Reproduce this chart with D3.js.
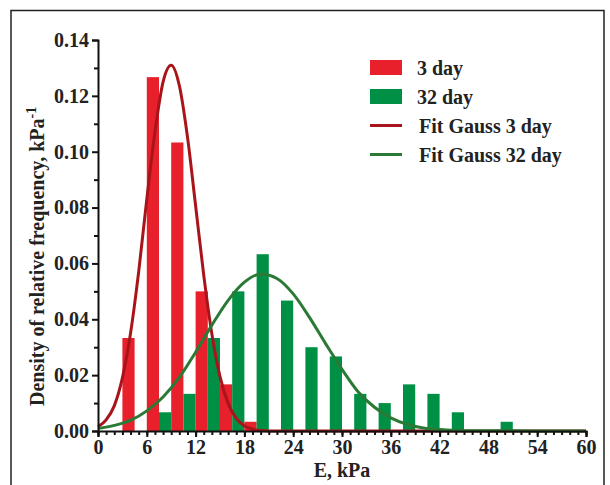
<!DOCTYPE html>
<html>
<head>
<meta charset="utf-8">
<script src="https://cdn.jsdelivr.net/npm/d3@7"></script>
<style>
  body { margin: 0; background: #fff; }
  text { font-family: "Liberation Serif", "Times New Roman", serif; font-weight: bold; fill: #222; }
</style>
</head>
<body>
<div id="chart"></div>
<script>
// histogram bins (left edge, kPa), bin width 3
var binStarts = [3, 6, 9, 12, 15, 18, 21, 24, 27, 30, 33, 36, 39, 42, 45, 48];
var day3 = [0.0333, 0.1267, 0.1033, 0.05, 0.0167, 0.0033, 0, 0, 0, 0, 0, 0, 0, 0, 0, 0];
var day32 = [0, 0.0067, 0.0133, 0.0333, 0.05, 0.0633, 0.0467, 0.03, 0.0267, 0.0133, 0.01, 0.0167, 0.0133, 0.0067, 0, 0.0033];

// fitted curves
var fit3X = [0, 1, 2, 3, 4, 5, 6, 7, 8, 9, 10, 11, 12, 13, 14, 15, 16, 17, 18, 19, 20, 22, 60];
var fit3Y = [0.0015, 0.004, 0.009, 0.019, 0.035, 0.057, 0.083, 0.107, 0.125, 0.131, 0.1237, 0.1053, 0.0807, 0.0558, 0.0347, 0.0195, 0.0099, 0.0045, 0.0018, 0.0007, 0.0002, 0, 0];
var fit32X = [0, 2, 4, 6, 8, 10, 12, 14, 16, 18, 20, 22, 24, 26, 28, 30, 32, 34, 36, 38, 40, 42, 44, 46, 60];
var fit32Y = [0.0009, 0.002, 0.0038, 0.0072, 0.0122, 0.0192, 0.0282, 0.0379, 0.0468, 0.0533, 0.0562, 0.0546, 0.0491, 0.0407, 0.0312, 0.0221, 0.0140, 0.0085, 0.0047, 0.0024, 0.0011, 0.0005, 0.0002, 0.0001, 0];

var xTicks = [0, 6, 12, 18, 24, 30, 36, 42, 48, 54, 60];
var yTicks = [0, 0.02, 0.04, 0.06, 0.08, 0.10, 0.12, 0.14];

var legendItems = [
  {label: "3 day", kind: "bar", color: "#e8202c"},
  {label: "32 day", kind: "bar", color: "#009045"},
  {label: "Fit Gauss 3 day", kind: "line", color: "#a8141a"},
  {label: "Fit Gauss 32 day", kind: "line", color: "#2a7a36"}
];

var svg = d3.select("#chart").append("svg")
    .attr("width", 610)
    .attr("height", 485);

// outer frame
svg.append("path")
    .attr("d", "M11,485 V10.5 H604 V485")
    .attr("fill", "none")
    .attr("stroke", "#222")
    .attr("stroke-width", 1.5);

var x = d3.scaleLinear().domain([0, 60]).range([98, 586]);
var y = d3.scaleLinear().domain([0, 0.14]).range([431, 40]);

var g = svg.append("g");

// bars: 3 day in the left half of each bin, 32 day in the right half
binStarts.forEach(function(b, i) {
  if (day3[i] > 0) {
    g.append("rect")
      .attr("x", x(b))
      .attr("y", y(day3[i]))
      .attr("width", x(b + 1.5) - x(b))
      .attr("height", y(0) - y(day3[i]))
      .attr("fill", legendItems[0].color);
  }
  if (day32[i] > 0) {
    g.append("rect")
      .attr("x", x(b + 1.5))
      .attr("y", y(day32[i]))
      .attr("width", x(b + 3) - x(b + 1.5))
      .attr("height", y(0) - y(day32[i]))
      .attr("fill", legendItems[1].color);
  }
});

var line = d3.line()
    .curve(d3.curveMonotoneX)
    .x(function(d) { return x(d[0]); })
    .y(function(d) { return y(d[1]); });

g.append("path")
    .attr("d", line(fit3X.map(function(v, i) { return [v, fit3Y[i]]; })))
    .attr("fill", "none")
    .attr("stroke", legendItems[2].color)
    .attr("stroke-width", 3);

g.append("path")
    .attr("d", line(fit32X.map(function(v, i) { return [v, fit32Y[i]]; })))
    .attr("fill", "none")
    .attr("stroke", legendItems[3].color)
    .attr("stroke-width", 3);

// x axis
svg.append("g")
    .attr("transform", "translate(0," + y(0) + ")")
    .call(d3.axisBottom(x).tickValues(xTicks).tickSize(6).tickPadding(3).tickFormat(d3.format("d")));
var xMinor = svg.append("g")
    .attr("transform", "translate(0," + y(0) + ")")
    .call(d3.axisBottom(x).tickValues(d3.range(0, 61, 1)).tickSize(4).tickFormat(""));
xMinor.select(".domain").remove();

// y axis
svg.append("g")
    .attr("transform", "translate(" + x(0) + ",0)")
    .call(d3.axisLeft(y).tickValues(yTicks).tickSize(6).tickPadding(3).tickFormat(d3.format(".2f")));
var yMinor = svg.append("g")
    .attr("transform", "translate(" + x(0) + ",0)")
    .call(d3.axisLeft(y).tickValues(d3.range(0.01, 0.14, 0.02)).tickSize(4).tickFormat(""));
yMinor.select(".domain").remove();

svg.selectAll(".domain").attr("stroke", "#111").attr("stroke-width", 2);
svg.selectAll(".tick line").attr("stroke", "#111").attr("stroke-width", 2);
svg.selectAll(".tick text")
    .style("font-family", "'Liberation Serif', serif")
    .style("font-weight", "bold")
    .style("font-size", "20px")
    .attr("fill", "#222");

// axis titles
svg.append("text")
    .attr("x", 342)
    .attr("y", 477)
    .attr("text-anchor", "middle")
    .style("font-size", "20px")
    .text("E, kPa");

var yt = svg.append("text")
    .attr("transform", "translate(44,406) rotate(-90)")
    .attr("text-anchor", "start")
    .style("font-size", "20px");
yt.append("tspan").text("Density of relative frequency, kPa");
yt.append("tspan").attr("dy", -8).style("font-size", "14px").text("-1");

// legend
var legend = svg.append("g").attr("transform", "translate(370,60)");
legendItems.forEach(function(d, i) {
  var row = legend.append("g").attr("transform", "translate(0," + (i * 29) + ")");
  if (d.kind === "bar") {
    row.append("rect").attr("x", 0).attr("y", 0).attr("width", 32).attr("height", 15).attr("fill", d.color);
  } else {
    row.append("line").attr("x1", 0).attr("x2", 32).attr("y1", 7.5).attr("y2", 7.5)
      .attr("stroke", d.color).attr("stroke-width", 3);
  }
  row.append("text")
    .attr("x", d.kind === "bar" ? 47 : 49)
    .attr("y", 15)
    .style("font-size", "20px")
    .text(d.label);
});
</script>
</body>
</html>
